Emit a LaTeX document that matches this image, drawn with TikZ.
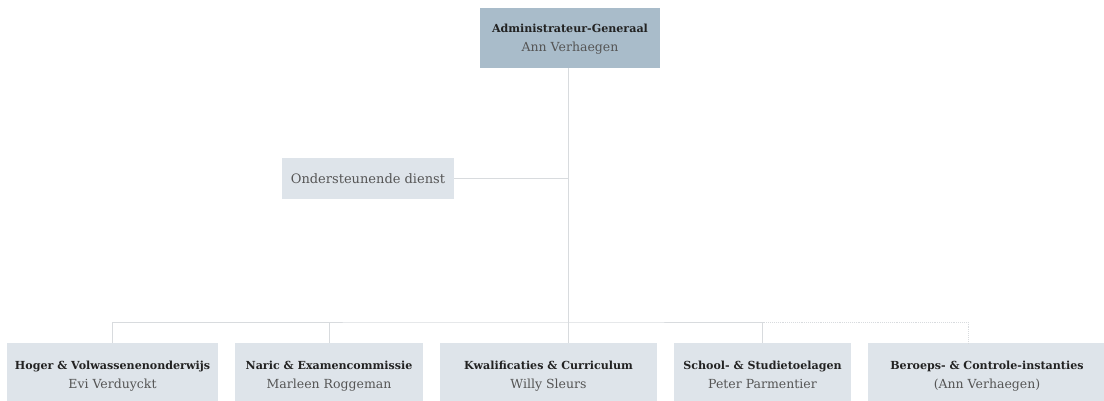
\documentclass[tikz,border=0pt]{standalone}
\usepackage{fontspec}
\setmainfont{DejaVu Serif}
\definecolor{headfill}{HTML}{A9BCCA}
\definecolor{boxfill}{HTML}{DEE4EA}
\definecolor{linegray}{HTML}{D8DBDE}
\definecolor{namegray}{HTML}{555555}
\definecolor{titlegray}{HTML}{222222}
\tikzset{
  unitbox/.style={fill=boxfill, inner sep=0pt, align=center, font=\fontsize{12.5}{19}\selectfont},
  headbox/.style={unitbox, fill=headfill},
  conn/.style={linegray, line width=0.9pt},
  dotconn/.style={conn, densely dotted}
}
\newcommand{\unit}[2]{{\color{titlegray}\fontsize{11.1}{19}\selectfont\bfseries\strut #1}\\{\color{namegray}\strut #2}}
\begin{document}
\begin{tikzpicture}[x=1pt,y=-1pt]
	\useasboundingbox (0,0) rectangle (1104,400);
	\node[headbox, minimum width=180pt, minimum height=60pt] (ag) at (570,38) {\unit{Administrateur-Generaal}{Ann Verhaegen}};
	\node[unitbox, minimum width=172pt, minimum height=41pt, font=\fontsize{13}{15}\selectfont\color{namegray}] (od) at (368,178.5) {Ondersteunende dienst};
	\node[unitbox, minimum width=211pt, minimum height=64pt] (hov) at (112.5,375) {\unit{Hoger \& Volwassenenonderwijs}{Evi Verduyckt}};
	\node[unitbox, minimum width=188pt, minimum height=64pt] (nex) at (329,375) {\unit{Naric \& Examencommissie}{Marleen Roggeman}};
	\node[unitbox, minimum width=217pt, minimum height=64pt] (kwc) at (548.5,375) {\unit{Kwalificaties \& Curriculum}{Willy Sleurs}};
	\node[unitbox, minimum width=177pt, minimum height=64pt] (sst) at (762.5,375) {\unit{School- \& Studietoelagen}{Peter Parmentier}};
	\node[unitbox, minimum width=238pt, minimum height=64pt] (bci) at (987,375) {\unit{Beroeps- \& Controle-instanties}{(Ann Verhaegen)}};
	% connectors
	\coordinate (hub) at (568,322);
	\draw[conn] (ag.south -| hub) -- (hub);
	\draw[conn] (od.east) -- (od.east -| hub);
	\draw[conn] (hov.north) |- (hub) -| (sst.north);
	\draw[conn] (nex.north) -- (nex.north |- hub);
	\draw[conn] (hub) -- (hub |- kwc.north);
	\draw[dotconn] (sst.north |- hub) -- (968,322) -- (968,343);
\end{tikzpicture}
\end{document}
